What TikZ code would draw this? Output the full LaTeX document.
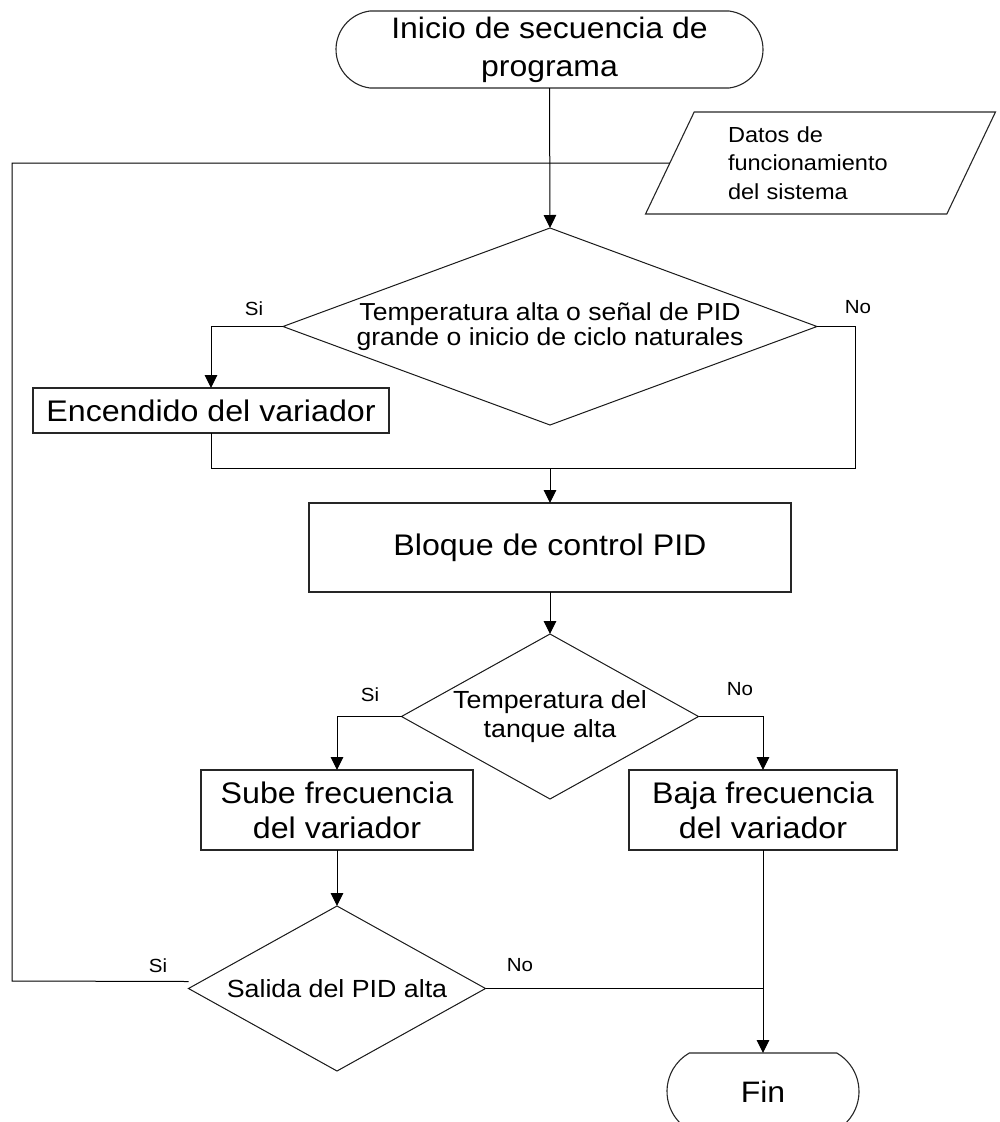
\documentclass[tikz,border=0pt]{standalone}
\usepackage{fontspec}
\setmainfont{Liberation Sans}[FakeStretch=1.08]
\usetikzlibrary{shapes.geometric,shapes.misc,arrows.meta}

\begin{document}
\begin{tikzpicture}[x=1pt,y=-1pt,
  every node/.style={inner sep=0pt, outer sep=0pt, text=black},
  stepbox/.style={draw=black!85, line width=1.2pt, rectangle, align=center,
    font=\fontsize{29.8}{35}\selectfont},
  term/.style={draw=black!85, line width=1.1pt, rounded rectangle, align=center,
    font=\fontsize{29.6}{38}\selectfont},
  decision/.style={draw=black!90, line width=1pt, diamond, align=center},
  io/.style={draw=black!85, line width=1.1pt, trapezium, trapezium left angle=64,
    trapezium right angle=116, trapezium stretches=true},
  conn/.style={draw=black, line width=1pt},
  flow/.style={conn, -{Triangle[length=13pt,width=12.5pt]}},
  lbl/.style={font=\fontsize{19}{20}\selectfont},
]
\clip (0,0) rectangle (1000,1122);

% terminals
\node[term, minimum width=427pt, minimum height=77pt,
      rounded rectangle arc length=166] (start) at (549.5,49.5)
      {Inicio de secuencia de\\programa};
\node[term, minimum width=192pt, minimum height=77pt,
      rounded rectangle arc length=120] (fin) at (763,1091.5) {Fin};

% input data
\node[io, minimum width=351pt, minimum height=102pt, text width=185pt, align=left,
      font=\fontsize{21.8}{28.5}\selectfont] (datos) at (820.5,163)
      {Datos de\\funcionamiento\\del sistema};

% decisions
\node[decision, minimum width=534pt, minimum height=197pt, shape aspect=2.71,
      font=\fontsize{24.6}{24.5}\selectfont] (d1) at (550,326.5)
      {Temperatura alta o señal de PID\\grande o inicio de ciclo naturales};
\node[decision, minimum width=297pt, minimum height=165pt, shape aspect=1.8,
      font=\fontsize{24.8}{29}\selectfont] (d2) at (550,716.5)
      {Temperatura del\\tanque alta};
\node[decision, minimum width=297pt, minimum height=165pt, shape aspect=1.8,
      font=\fontsize{24.8}{28}\selectfont] (salida) at (337,988.5)
      {Salida del PID alta};

% process blocks
\node[stepbox, minimum width=356pt, minimum height=45pt] (enc) at (211,410.5)
      {Encendido del variador};
\node[stepbox, minimum width=482pt, minimum height=89pt] (bloque) at (550,547.5)
      {Bloque de control PID};
\node[stepbox, minimum width=272pt, minimum height=80pt] (sube) at (337,810)
      {Sube frecuencia\\del variador};
\node[stepbox, minimum width=268pt, minimum height=80pt] (baja) at (763,810)
      {Baja frecuencia\\del variador};

% branch labels
\node[lbl] (si1) at (254,309) {Si};
\node[lbl] (no1) at (858,307) {No};
\node[lbl] (si2) at (370,695) {Si};
\node[lbl] (no2) at (740,689) {No};
\node[lbl] (si3) at (158,966) {Si};
\node[lbl] (no3) at (520,965) {No};

% connectors
\coordinate (mR) at (855,468);
\coordinate (fbX) at (12,981);
\draw[flow] (start.south) -- (d1.north);
\draw[flow] (d1.west) -| (enc.north);
\draw[conn] (d1.east) -| (mR) -- (enc.south |- mR) -- (enc.south);
\draw[flow] (bloque.north |- mR) -- (bloque.north);
\draw[flow] (bloque.south) -- (d2.north);
\draw[flow] (d2.west) -| (sube.north);
\draw[flow] (d2.east) -| (baja.north);
\draw[flow] (sube.south) -- (salida.north);
\draw[flow] (baja.south) -- (fin.north);
\draw[conn] (salida.east) -- (salida.east -| fin.north);
\draw[conn] (datos.west) -| (fbX) -- ([yshift=7pt]salida.west);
\end{tikzpicture}
\end{document}
